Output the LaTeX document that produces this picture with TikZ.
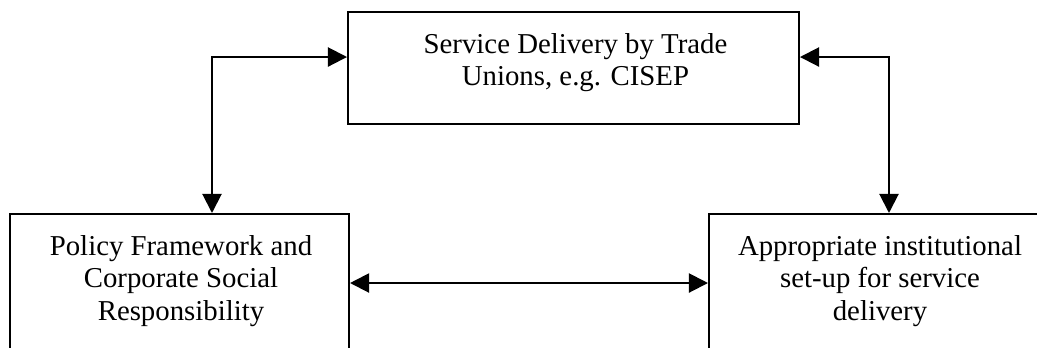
\documentclass[tikz,border=0pt]{standalone}
\usepackage{fontspec}
\setmainfont{Liberation Serif}
\usetikzlibrary{arrows.meta,calc}
\begin{document}
\begin{tikzpicture}[
  x=0.4167pt, y=-0.4167pt,
  box/.style={draw, line width=0.85pt, inner sep=0pt, rectangle},
  label/.style={align=center, inner sep=0pt, anchor=north,
    font=\fontsize{12}{13.55}\selectfont},
  link/.style={line width=0.85pt, {Triangle[length=8pt,width=8pt]}-{Triangle[length=8pt,width=8pt]}}
]
\useasboundingbox (0,0) rectangle (1037,347);
\clip (0,0) rectangle (1037,347);

% the three boxes
\node[box, minimum width=187.9pt, minimum height=46.67pt] (tbox) at (573.5,68) {};
\node[box, minimum width=141.26pt, minimum height=69.17pt] (lbox) at (179.5,297) {};
\node[box, minimum width=142.5pt, minimum height=69.17pt] (rbox) at (880,297) {};

% box texts
\node[label] (ttext) at (575.5,33) {Service Delivery by Trade\\Unions, e.g. CISEP};
\node[label] (ltext) at (181,235) {Policy Framework and\\Corporate Social\\Responsibility};
\node[label] (rtext) at (880,235) {Appropriate institutional\\set-up for service\\delivery};

% two-way links
\draw[link] ($(lbox.north)+(32.5,0)$) |- ($(tbox.west)+(0,-11)$);
\draw[link] ($(tbox.east)+(0,-11)$) -| ($(rbox.north)+(9,0)$);
\draw[link] ($(lbox.east)+(0,-14)$) -- ($(rbox.west)+(0,-14)$);
\end{tikzpicture}
\end{document}
